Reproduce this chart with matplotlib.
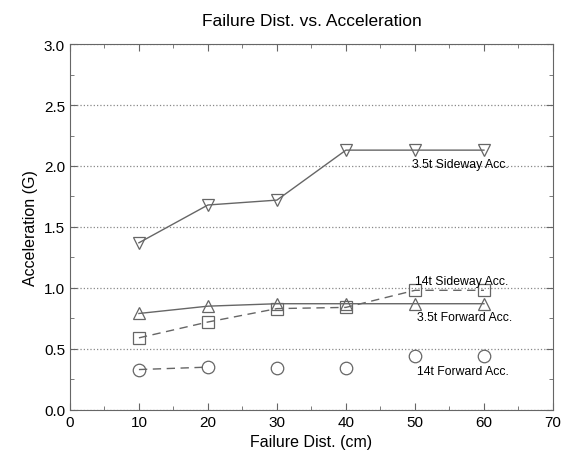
import numpy as np
import matplotlib.pyplot as plt
from matplotlib.ticker import MultipleLocator

plt.rcParams["font.family"] = ["Liberation Sans", "DejaVu Sans"]

# Données
dist = [10, 20, 30, 40, 50, 60]
side_35t = [1.37, 1.68, 1.72, 2.13, 2.13, 2.13]
fwd_35t = [0.79, 0.85, 0.87, 0.87, 0.87, 0.87]
side_14t = [0.59, 0.72, 0.83, 0.84, 0.98, 0.98]
fwd_14t = [0.33, 0.35, 0.34, 0.34, 0.44, 0.44]

gris = "#666666"

fig = plt.figure(figsize=(5.73, 4.6), dpi=100)
ax = fig.add_axes([0.122, 0.107, 0.843, 0.795])

kw = dict(color=gris, lw=1.0, markersize=9, markerfacecolor="none",
          markeredgecolor=gris, markeredgewidth=0.9)
ax.plot(dist, side_35t, linestyle="-", marker="v", **kw)
ax.plot(dist, fwd_35t, linestyle="-", marker="^", **kw)
ax.plot(dist, side_14t, linestyle="--", marker="s", dashes=(6, 4), **kw)
# ligne tiretée seulement entre les deux premiers points
ax.plot(dist[:2], fwd_14t[:2], linestyle="--", dashes=(6, 4), color=gris, lw=1.0)
ax.plot(dist, fwd_14t, linestyle="none", marker="o", **kw)

# Étiquettes des courbes
ax.text(49.6, 2.02, "3.5t Sideway Acc.", fontsize=8.8, va="center")
ax.text(50.0, 1.06, "14t Sideway Acc.", fontsize=8.8, va="center")
ax.text(50.3, 0.76, "3.5t Forward Acc.", fontsize=8.8, va="center")
ax.text(50.3, 0.32, "14t Forward Acc.", fontsize=8.8, va="center")

ax.set_xlim(0, 70)
ax.set_ylim(0, 3.0)
ax.xaxis.set_major_locator(MultipleLocator(10))
ax.xaxis.set_minor_locator(MultipleLocator(5))
ax.yaxis.set_major_locator(MultipleLocator(0.5))
ax.yaxis.set_minor_locator(MultipleLocator(0.25))
ax.yaxis.set_major_formatter(plt.FormatStrFormatter("%.1f"))
ax.tick_params(which="both", direction="in", top=True, right=True,
               color=gris, labelsize=11)
ax.tick_params(which="major", length=5)
ax.tick_params(which="minor", length=3)
for s in ax.spines.values():
    s.set_color(gris)
ax.grid(axis="y", which="major", linestyle=":", color="#888888", lw=0.9)

ax.set_xlabel("Failure Dist. (cm)", fontsize=11.5)
ax.set_ylabel("Acceleration (G)", fontsize=11.5)
ax.set_title("Failure Dist. vs. Acceleration", fontsize=12.5, pad=14)

fig.savefig("out.png", dpi=100)
